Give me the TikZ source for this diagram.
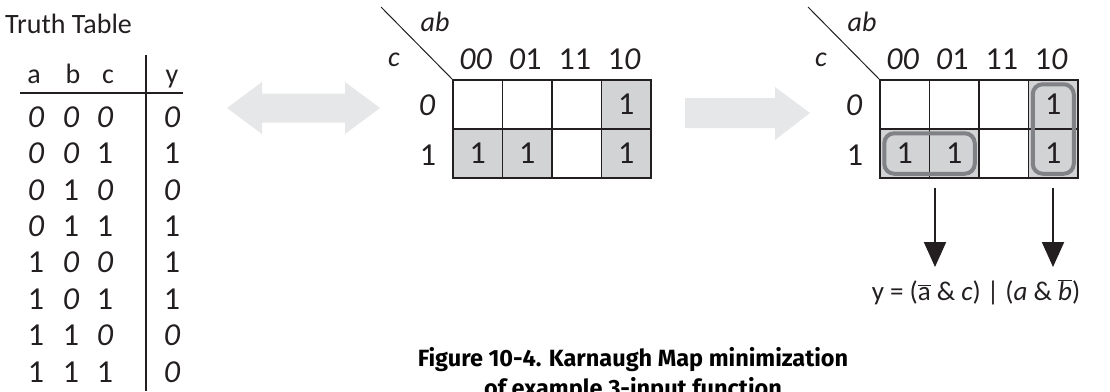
\documentclass[tikz,border=0pt]{standalone}
\usepackage{fontspec}
\setmainfont{Carlito}
\newfontfamily\capfont{Fira Sans}
\usetikzlibrary{arrows.meta,fit}

\definecolor{cellgray}{HTML}{D1D3D4}
\definecolor{loopgray}{HTML}{808285}
\definecolor{arrowgray}{HTML}{E6E7E8}
\definecolor{inkblack}{HTML}{231F20}

% a zero is written as a slanted O, a one stays upright
\newcommand{\bitval}[1]{\ifnum#1=0 \textit{0}\else 1\fi}

\tikzset{
  hand/.style={font=\fontsize{28}{30}\selectfont, text=inkblack, inner sep=0pt},
  digit/.style={font=\fontsize{32}{34}\selectfont, text=inkblack, inner sep=0pt},
  cellbox/.style={draw=inkblack, line width=1.5pt, minimum width=49.5pt,
    minimum height=49pt, inner sep=0pt, font=\fontsize{32}{34}\selectfont, text=inkblack},
  cell0/.style={fill=white},
  cell1/.style={fill=cellgray},
  group/.style={draw=loopgray, line width=4pt, rounded corners=10pt, inner sep=-5pt},
  bigarrow/.style={fill=arrowgray},
  droparrow/.style={draw=inkblack, line width=2pt, -{Triangle[length=25pt,width=22pt]}},
  capstyle/.style={font=\capfont\bfseries\fontsize{23.5}{28}\selectfont, anchor=base, inner sep=0pt},
}

\begin{document}
\begin{tikzpicture}[x=1pt, y=-1pt]
  \useasboundingbox (0,0) rectangle (1110,391);

  % Truth table
  \node[hand, anchor=base west] (Title) at (5,33) {Truth Table};
  \foreach \h/\x in {a/34, b/73, c/108, y/172}{
      \node[hand, anchor=base] (Head\h) at (\x,83) {\h};
    }
  \draw[inkblack, line width=1.5pt] (20,93) -- (183,93);
  \draw[inkblack, line width=1.5pt] (146,55) -- (146,391);

  % One row per input combination
  \foreach \a/\b/\c/\y [count=\n] in {0/0/0/0, 0/0/1/1, 0/1/0/0, 0/1/1/1,
      1/0/0/1, 1/0/1/1, 1/1/0/0, 1/1/1/0}{
      % Vertical position of this row
      \pgfmathsetmacro{\rowY}{117+36.4*(\n-1)}
      \node[digit] (A\n) at (36,\rowY) {\bitval{\a}};
      \node[digit] (B\n) at (71,\rowY) {\bitval{\b}};
      \node[digit] (C\n) at (105,\rowY) {\bitval{\c}};
      \node[digit] (Y\n) at (172,\rowY) {\bitval{\y}};
    }

  % Arrows between the steps
  \fill[bigarrow] (227,108) -- (262,82) -- (262,93.5) -- (345,93.5) -- (345,82)
    -- (380,108) -- (345,134) -- (345,122.5) -- (262,122.5) -- (262,134) -- cycle;
  \fill[bigarrow] (685,98) -- (775,98) -- (775,87) -- (810,113) -- (775,140)
    -- (775,128) -- (685,128) -- cycle;

  % Two Karnaugh maps, the same cells in each
  \foreach \m/\x in {1/453, 2/880}{
      \begin{scope}[shift={(\x,80)}]
        \coordinate (K\m-corner) at (0,0);
        \draw[inkblack, line width=1pt] (-72,-73) -- (K\m-corner);
        \node[hand] (K\m-ab) at (-18,-58) {\textit{ab}};
        \node[hand] (K\m-c) at (-59,-20) {\textit{c}};
        \node[digit] (K\m-Row0) at (-26,25) {\bitval{0}};
        \node[digit] (K\m-Row1) at (-25,75) {1};
        \foreach \p/\q/\top/\bot [count=\i from 0] in {0/0/0/1, 0/1/0/1, 1/1/0/0, 1/0/1/1}{
            % Column position of this cell pair
            \pgfmathsetmacro{\colX}{24.75+49.5*\i}
            \node[digit] (K\m-Col\i) at (\colX-2,-21) {\bitval{\p}\bitval{\q}};
            \node[cellbox, cell\top] (K\m-\i-0) at (\colX,24.5) {\ifnum\top=1 1\fi};
            \node[cellbox, cell\bot] (K\m-\i-1) at (\colX,73.5) {\ifnum\bot=1 1\fi};
          }
      \end{scope}
    }

  % Groups of ones in the second map
  \node[group, fit=(K2-0-1)(K2-1-1)] (GroupAC) {};
  \node[group, fit=(K2-3-0)(K2-3-1)] (GroupAB) {};

  % Result
  \node[hand, font=\fontsize{27}{29}\selectfont] (Result) at (976,292)
    {y = ($\overline{\hbox{a}}$ \& \textit{c}) | (\textit{a} \& $\overline{\hbox{\textit{b}}}$)};
  \coordinate (DropAC) at (935,188);
  \coordinate (TipAC) at (935,267);
  \coordinate (DropAB) at (1053,188);
  \coordinate (TipAB) at (1053,267);
  \draw[droparrow] (DropAC) -- (TipAC);
  \draw[droparrow] (DropAB) -- (TipAB);

  % Caption
  \node[capstyle] (CaptionTop) at (633,366) {Figure 10-4. Karnaugh Map minimization};
  \node[capstyle] (CaptionBottom) at (633,396) {of example 3-input function};
\end{tikzpicture}
\end{document}
